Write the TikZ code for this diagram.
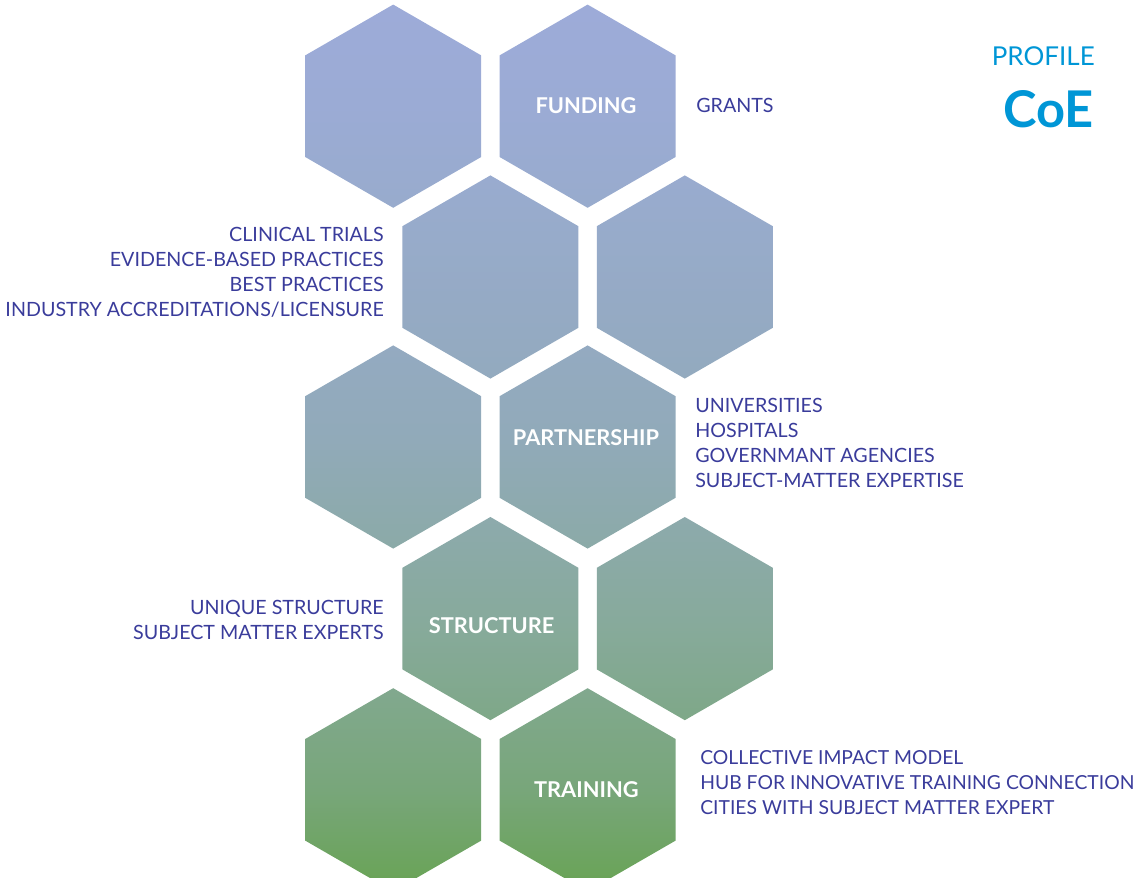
\documentclass[tikz,border=0pt]{standalone}
\usepackage{fontspec}
\setmainfont{Lato}
\usepackage{tikz}
\usetikzlibrary{calc}

\definecolor{listblue}{RGB}{58,60,155}
\definecolor{profilecyan}{RGB}{0,150,214}
\definecolor{gradA}{RGB}{104,163,84}
\definecolor{gradB}{RGB}{120,166,122}
\definecolor{gradC}{RGB}{135,170,155}
\definecolor{gradD}{RGB}{145,170,185}
\definecolor{gradE}{RGB}{155,171,213}
\definecolor{gradF}{RGB}{157,171,216}
\pgfdeclareverticalshading{hexgrad}{100bp}{color(0bp)=(gradA); color(25bp)=(gradA);
  color(30.7bp)=(gradB); color(40bp)=(gradC); color(50.45bp)=(gradD);
  color(69.35bp)=(gradE); color(75bp)=(gradF); color(100bp)=(gradF)}

\begin{document}
\begin{tikzpicture}[every node/.style={inner sep=0pt},
  hexlabel/.style={white,font=\fontsize{15.5}{19}\selectfont\bfseries},
  itemlist/.style={listblue,font=\fontsize{14}{17.8}\selectfont}]

\useasboundingbox (0,0) rectangle (28.425,21.925);
\clip (0,0) rectangle (28.425,21.925);

% honeycomb, one shading over all cells
\shade[shading=hexgrad]
  (9.83,19.27) +(90:2.54) -- +(150:2.54) -- +(210:2.54) -- +(270:2.54) -- +(330:2.54) -- +(30:2.54) -- cycle
  (14.69,19.27) +(90:2.54) -- +(150:2.54) -- +(210:2.54) -- +(270:2.54) -- +(330:2.54) -- +(30:2.54) -- cycle
  (12.26,15.0) +(90:2.54) -- +(150:2.54) -- +(210:2.54) -- +(270:2.54) -- +(330:2.54) -- +(30:2.54) -- cycle
  (17.12,15.0) +(90:2.54) -- +(150:2.54) -- +(210:2.54) -- +(270:2.54) -- +(330:2.54) -- +(30:2.54) -- cycle
  (9.83,10.75) +(90:2.54) -- +(150:2.54) -- +(210:2.54) -- +(270:2.54) -- +(330:2.54) -- +(30:2.54) -- cycle
  (14.69,10.75) +(90:2.54) -- +(150:2.54) -- +(210:2.54) -- +(270:2.54) -- +(330:2.54) -- +(30:2.54) -- cycle
  (12.26,6.46) +(90:2.54) -- +(150:2.54) -- +(210:2.54) -- +(270:2.54) -- +(330:2.54) -- +(30:2.54) -- cycle
  (17.12,6.46) +(90:2.54) -- +(150:2.54) -- +(210:2.54) -- +(270:2.54) -- +(330:2.54) -- +(30:2.54) -- cycle
  (9.83,2.18) +(90:2.54) -- +(150:2.54) -- +(210:2.54) -- +(270:2.54) -- +(330:2.54) -- +(30:2.54) -- cycle
  (14.69,2.18) +(90:2.54) -- +(150:2.54) -- +(210:2.54) -- +(270:2.54) -- +(330:2.54) -- +(30:2.54) -- cycle;

% labels in the cells
\node[hexlabel] (funding) at (14.65,19.29) {FUNDING};
\node[hexlabel] (partnership) at (14.65,10.975) {PARTNERSHIP};
\node[hexlabel] (structure) at (12.29,6.275) {STRUCTURE};
\node[hexlabel] (training) at (14.66,2.175) {TRAINING};

% lists beside the cells
\node[itemlist,anchor=west] (grants) at (17.4,19.3) {GRANTS};
\node[itemlist,anchor=east,align=right] (trials) at (9.6,15.11)
  {CLINICAL TRIALS\\EVIDENCE-BASED PRACTICES\\BEST PRACTICES\\INDUSTRY ACCREDITATIONS/LICENSURE};
\node[itemlist,anchor=west,align=left] (partners) at (17.375,10.85)
  {UNIVERSITIES\\HOSPITALS\\GOVERNMANT AGENCIES\\SUBJECT-MATTER EXPERTISE};
\node[itemlist,anchor=east,align=right] (experts) at (9.6,6.4375)
  {UNIQUE STRUCTURE\\SUBJECT MATTER EXPERTS};
\node[itemlist,anchor=west,align=left,font=\fontsize{13.75}{17.8}\selectfont] (model) at (17.5,2.35)
  {COLLECTIVE IMPACT MODEL\\HUB FOR INNOVATIVE TRAINING CONNECTION\\CITIES WITH SUBJECT MATTER EXPERT};

% title
\node[profilecyan,anchor=east,font=\fontsize{18.5}{21}\selectfont] (profile) at (27.375,20.525) {PROFILE};
\node[profilecyan,anchor=east,font=\fontsize{36}{42}\selectfont\bfseries] (coe) at (27.35,19.2) {CoE};

\end{tikzpicture}
\end{document}
